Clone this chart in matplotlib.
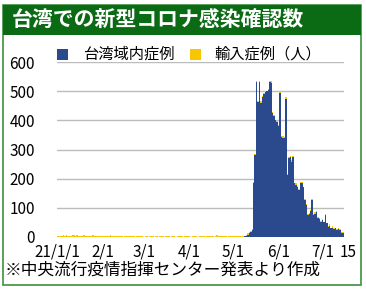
import numpy as np
import matplotlib.pyplot as plt
import matplotlib.transforms as mtransforms
from matplotlib.patches import Rectangle

plt.rcParams['font.family'] = ['Noto Sans CJK JP', 'DejaVu Sans']

# --- Data: daily confirmed cases, 2021-01-01 .. 2021-07-15 ---
local_jan = [0, 0, 0, 0, 0, 0, 0, 0, 0, 0, 0, 1, 1, 0, 0, 1, 0, 0, 1, 0, 1, 0, 0, 0, 0, 0, 0, 0, 0, 0, 0]
local_feb = [0, 0, 0, 0, 0, 0, 0, 0, 0, 0, 0, 0, 0, 0, 0, 0, 0, 0, 0, 0, 0, 0, 0, 0, 0, 0, 0, 0]
local_mar = [0, 0, 0, 0, 0, 0, 0, 0, 0, 0, 0, 0, 0, 0, 0, 0, 0, 0, 0, 0, 0, 0, 0, 0, 0, 0, 0, 0, 0, 0, 0]
local_apr = [0, 0, 0, 0, 0, 0, 0, 0, 0, 0, 0, 0, 0, 0, 0, 0, 0, 0, 0, 1, 0, 1, 0, 0, 0, 0, 0, 0, 0, 0]
local_may = [0, 0, 0, 0, 0, 0, 0, 1, 3, 4, 7, 13, 16, 25, 184, 281, 532, 464, 532, 460,
             481, 490, 498, 500, 505, 532, 530, 425, 415, 401, 396]
local_jun = [380, 493, 344, 340, 340, 475, 213, 270, 275, 258, 275, 184, 180, 172, 161,
             184, 186, 170, 127, 110, 75, 80, 90, 127, 75, 80, 87, 64, 60, 53]
local_jul = [58, 50, 75, 47, 35, 38, 30, 32, 28, 30, 24, 28, 24, 15, 14]

imp_jan = [3, 5, 2, 4, 6, 3, 8, 5, 4, 2, 6, 5, 3, 7, 4, 2, 5, 3, 6, 4, 3, 2, 5, 4, 6, 3, 2, 4, 5, 3, 4]
imp_feb = [2, 3, 5, 4, 2, 6, 3, 2, 4, 5, 3, 2, 4, 3, 1, 2, 3, 5, 2, 4, 3, 2, 1, 3, 2, 4, 3, 2]
imp_mar = [1, 2, 3, 1, 2, 4, 2, 1, 3, 2, 1, 2, 3, 2, 1, 4, 2, 3, 1, 2, 2, 3, 1, 2, 4, 3, 2, 1, 3, 2, 2]
imp_apr = [2, 1, 3, 2, 4, 2, 1, 3, 2, 2, 3, 1, 2, 4, 3, 2, 2, 1, 3, 5, 2, 3, 2, 4, 3, 2, 1, 3, 2, 4]
imp_may = [3, 4, 2, 3, 5, 2, 3, 4, 2, 3, 5, 4, 3, 2, 6, 4, 3, 4, 2, 6, 3, 5, 4, 2, 3, 4, 5, 3, 4, 2, 3]
imp_jun = [4, 3, 2, 5, 3, 4, 2, 3, 4, 5, 3, 2, 4, 3, 2, 4, 3, 2, 5, 3, 4, 3, 2, 4, 3, 5, 2, 3, 4, 3]
imp_jul = [2, 3, 4, 2, 3, 5, 2, 4, 3, 2, 4, 3, 5, 2, 3]

local = np.array(local_jan + local_feb + local_mar + local_apr + local_may + local_jun + local_jul)
imported = np.array(imp_jan + imp_feb + imp_mar + imp_apr + imp_may + imp_jun + imp_jul)

tick_days = [0, 31, 59, 90, 120, 151, 181, 195]
tick_labels = ['21/1/1', '2/1', '3/1', '4/1', '5/1', '6/1', '7/1', '15']
y_ticks = [0, 100, 200, 300, 400, 500, 600]

TITLE = '台湾での新型コロナ感染確認数'
LEGEND = ['台湾域内症例', '輸入症例（人）']
NOTE = '※中央流行疫情指揮センター発表より作成'

BLUE = '#2b4a8e'
YELLOW = '#f7c600'
GREEN = '#0b6b14'

days = np.arange(len(local))

# --- Figure ---
fig = plt.figure(figsize=(3.66, 2.89), dpi=100)
ax = fig.add_axes([0.156, 0.180, 0.784, 0.605])

ax.bar(days, local, width=1.0, color=BLUE, linewidth=0)
ax.bar(days, imported, bottom=local, width=1.0, color=YELLOW, linewidth=0)

ax.set_xlim(-0.5, 195.8)
ax.set_ylim(0, 600)
ax.set_yticks(y_ticks)
ax.set_xticks(tick_days)
ax.set_xticklabels(tick_labels)
ax.tick_params(axis='y', length=0, pad=16, labelsize=11)
ax.tick_params(axis='x', length=0, pad=5, labelsize=11)
for s in ax.spines.values():
    s.set_visible(False)
ax.yaxis.grid(True, color='#bcbcbc', linewidth=1.0)
ax.set_axisbelow(True)

# nudge the "15" label a little to the right, as in the original
last = ax.get_xticklabels()[-1]
last.set_transform(last.get_transform() + mtransforms.ScaledTranslation(5 / 100, 0, fig.dpi_scale_trans))

# --- Title bar and frame ---
fig.patches.append(Rectangle((0.008, 0.014), 0.978, 0.969, transform=fig.transFigure,
                             fill=False, edgecolor='#3f8f3f', linewidth=1.2))
fig.patches.append(Rectangle((0.008, 0.879), 0.978, 0.104, transform=fig.transFigure,
                             facecolor=GREEN, edgecolor='none'))
fig.text(0.033, 0.931, TITLE, color='white', fontsize=15, fontweight='bold', va='center')

# --- Legend ---
fig.patches.append(Rectangle((0.156, 0.792), 0.030, 0.040, transform=fig.transFigure,
                             facecolor=BLUE, edgecolor='none'))
fig.text(0.227, 0.812, LEGEND[0], fontsize=11, va='center')
fig.patches.append(Rectangle((0.519, 0.792), 0.030, 0.040, transform=fig.transFigure,
                             facecolor=YELLOW, edgecolor='none'))
fig.text(0.587, 0.812, LEGEND[1], fontsize=11, va='center')

# --- Source note ---
fig.text(0.014, 0.066, NOTE, fontsize=12, va='center')

fig.savefig('out.png', dpi=100)
